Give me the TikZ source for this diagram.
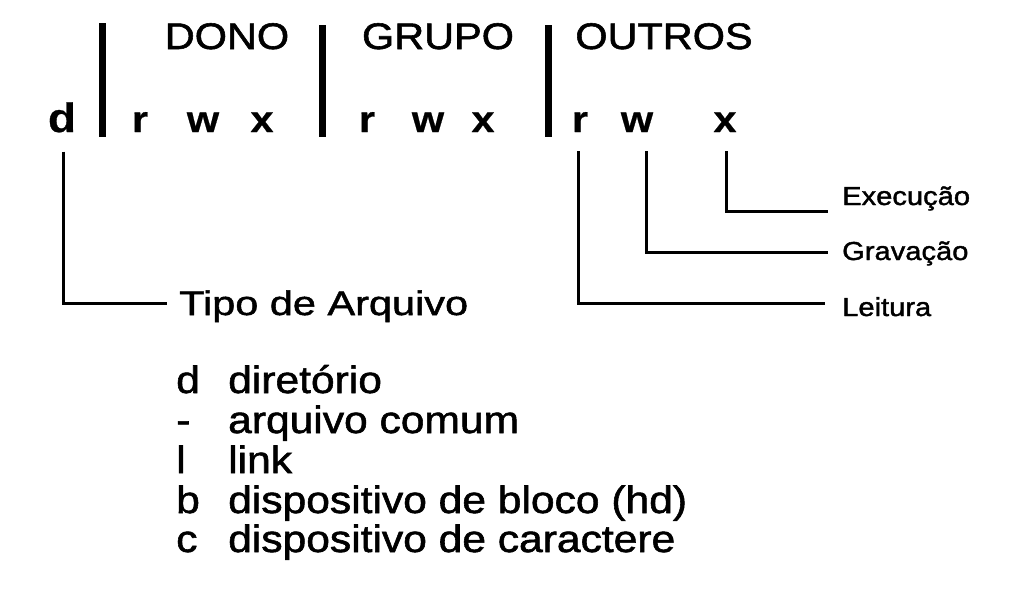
\documentclass[tikz,border=0pt]{standalone}
\usepackage{fontspec}
\setmainfont{Liberation Sans}
\newfontfamily\ffa[FakeStretch=1.12,FakeBold=1.5]{Liberation Sans}
\newfontfamily\ffb[FakeStretch=1.22,FakeBold=1.5]{Liberation Sans}
\newfontfamily\ffc[FakeStretch=1.12,FakeBold=0.6]{Liberation Sans}
\begin{document}
\begin{tikzpicture}[x=1pt,y=-1pt,
  hdr/.style={font=\ffa\fontsize{37}{40}\selectfont, inner sep=0pt, anchor=base},
  perm/.style={font=\ffc\bfseries\fontsize{37}{40}\selectfont, inner sep=0pt, anchor=base},
  permd/.style={font=\ffc\bfseries\fontsize{41}{44}\selectfont, inner sep=0pt, anchor=base},
  barline/.style={line width=7pt},
  conn/.style={line width=3pt},
  lbl/.style={font=\ffa\fontsize{26}{28}\selectfont, inner sep=0pt, anchor=base west},
  title/.style={font=\ffb\fontsize{34}{36}\selectfont, inner sep=0pt, anchor=base west},
  lst/.style={font=\ffa\fontsize{38}{40}\selectfont, inner sep=0pt, anchor=base west}]
\useasboundingbox (0,0) rectangle (1036,606);
\fill[white] (0,0) rectangle (1036,606);

% headers
\node[hdr] (dono) at (227,49) {DONO};
\node[hdr] (grupo) at (438,49) {GRUPO};
\node[hdr] (outros) at (664,49) {OUTROS};

% separators
\draw[barline] (102,23) -- (102,137);
\draw[barline] (322,25) -- (322,137);
\draw[barline] (548,25) -- (548,137);

% permission letters
\node[permd] (d0) at (62,132) {d};
\node[perm] (r1) at (140,132) {r};
\node[perm] (w1) at (203,132) {w};
\node[perm] (x1) at (262,132) {x};
\node[perm] (r2) at (367,132) {r};
\node[perm] (w2) at (428,132) {w};
\node[perm] (x2) at (483,132) {x};
\node[perm] (r3) at (580,132) {r};
\node[perm] (w3) at (637,132) {w};
\node[perm] (x3) at (725,132) {x};

% labels
\node[title] (tipo) at (179,315) {Tipo de Arquivo};
\node[lbl] (exe) at (842,205) {Execução};
\node[lbl] (grav) at (842,260) {Gravação};
\node[lbl] (leit) at (842,316) {Leitura};

% connector ends
\coordinate (eT) at (167,303);
\coordinate (eX) at (828,211);
\coordinate (eW) at (828,252);
\coordinate (eR) at (825,303);

\draw[conn] (d0.south) ++(1,19) |- (eT);
\draw[conn] (r3.south) ++(-2,19) |- (eR);
\draw[conn] (w3.south) ++(9,19) |- (eW);
\draw[conn] (x3.south) ++(1,19) |- (eX);

% list
\node[lst] (k1) at (176,393) {d};
\node[lst] (v1) at (228,393) {diretório};
\node[lst] (k2) at (176,433) {-};
\node[lst] (v2) at (228,433) {arquivo comum};
\node[lst] (k3) at (176,473) {l};
\node[lst] (v3) at (228,473) {link};
\node[lst] (k4) at (176,513) {b};
\node[lst] (v4) at (228,513) {dispositivo de bloco (hd)};
\node[lst] (k5) at (176,552) {c};
\node[lst] (v5) at (228,552) {dispositivo de caractere};
\end{tikzpicture}
\end{document}
